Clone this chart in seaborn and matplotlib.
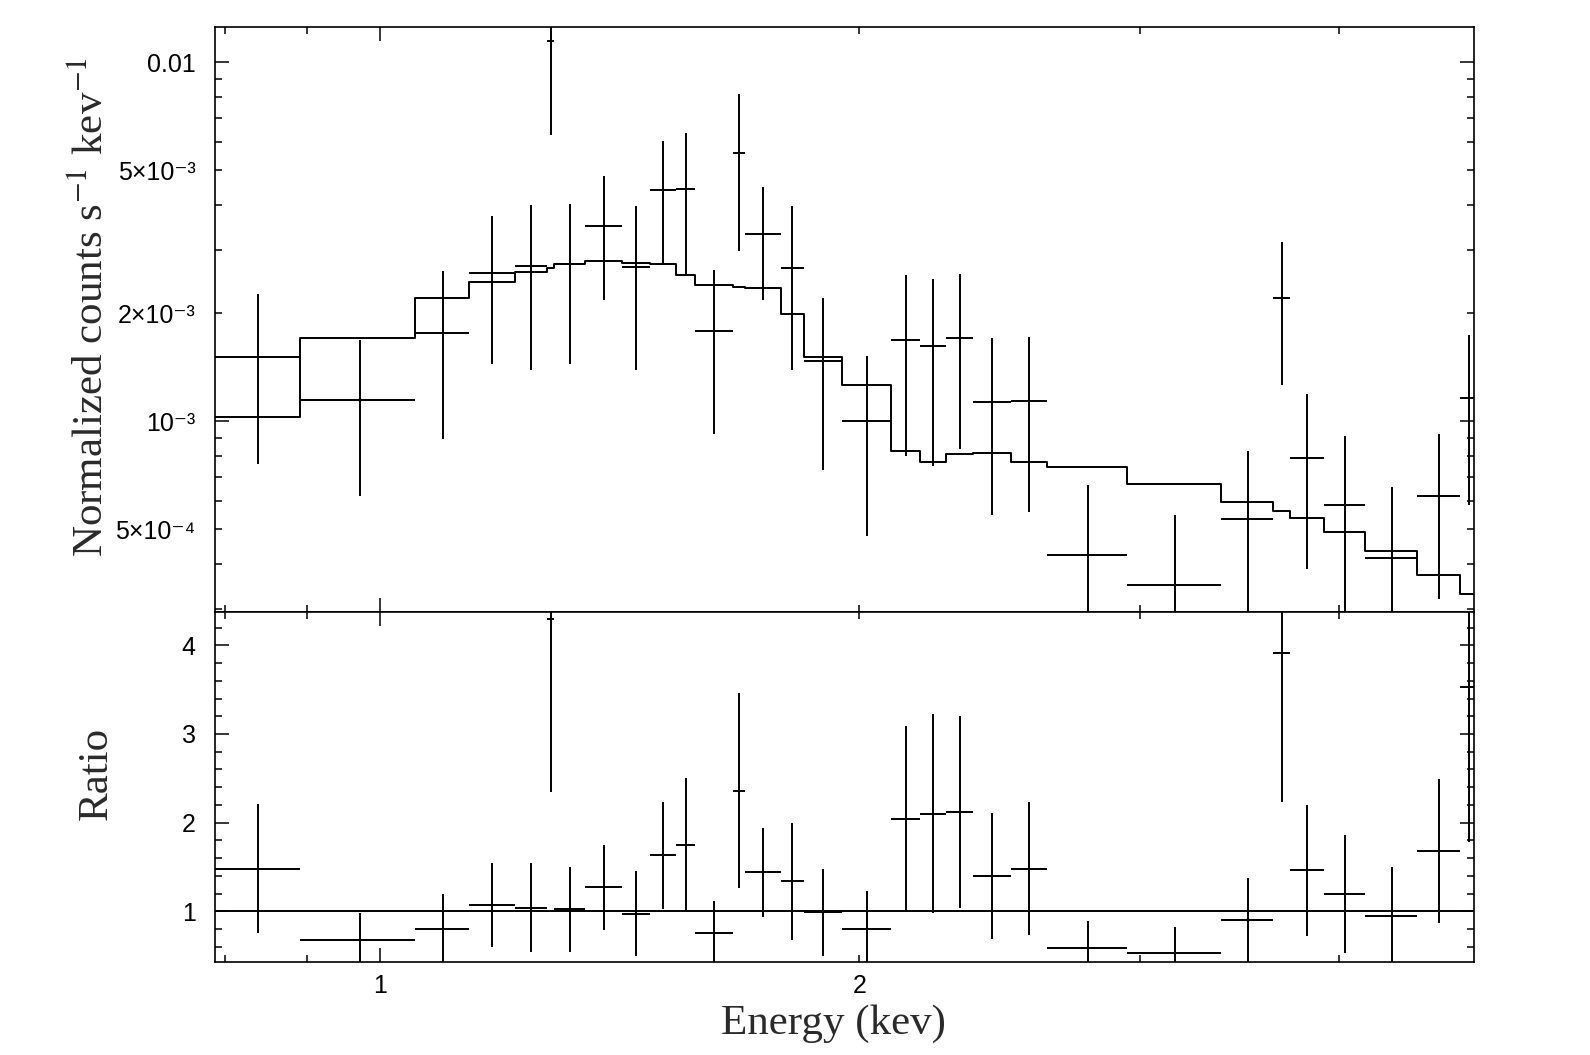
import matplotlib
matplotlib.use('Agg')
import numpy as np
import pandas as pd
import seaborn as sns
import matplotlib.pyplot as plt
from matplotlib.ticker import FixedLocator, FuncFormatter

# energy bin edges (kev)
edges = [0.787, 0.891, 1.052, 1.138, 1.215, 1.273, 1.287, 1.345, 1.420, 1.478,
         1.534, 1.578, 1.666, 1.696, 1.786, 1.845, 1.949, 2.094, 2.182, 2.268,
         2.358, 2.490, 2.624, 2.944, 3.372, 3.638, 3.727, 3.914, 4.153, 4.479,
         4.763, 4.887]
# normalized counts s^-1 kev^-1
counts = [1.51e-3, 1.15e-3, 1.76e-3, 2.59e-3, 2.70e-3, 1.146e-2, 2.74e-3, 3.50e-3,
          2.69e-3, 4.40e-3, 4.44e-3, 1.78e-3, 5.58e-3, 3.33e-3, 2.68e-3, 1.47e-3,
          1.00e-3, 1.68e-3, 1.62e-3, 1.71e-3, 1.13e-3, 1.14e-3, 4.23e-4, 3.49e-4,
          5.36e-4, 2.21e-3, 7.88e-4, 5.85e-4, 4.15e-4, 6.19e-4, 1.164e-3]
counts_err = [0.75e-3, 0.53e-3, 0.87e-3, 1.15e-3, 1.31e-3, 5.2e-3, 1.30e-3, 1.32e-3,
              1.30e-3, 1.64e-3, 1.90e-3, 0.86e-3, 2.60e-3, 1.15e-3, 1.29e-3, 0.74e-3,
              0.52e-3, 0.88e-3, 0.87e-3, 0.87e-3, 0.58e-3, 0.58e-3, 2.4e-4, 2.0e-4,
              2.9e-4, 0.95e-3, 4.0e-4, 3.25e-4, 2.4e-4, 3.0e-4, 0.58e-3]
model = [1.027e-3, 1.706e-3, 2.21e-3, 2.45e-3, 2.60e-3, 2.68e-3, 2.75e-3, 2.79e-3,
         2.76e-3, 2.735e-3, 2.55e-3, 2.39e-3, 2.37e-3, 2.35e-3, 1.99e-3, 1.51e-3,
         1.26e-3, 8.26e-4, 7.72e-4, 8.10e-4, 8.18e-4, 7.72e-4, 7.45e-4, 6.70e-4,
         5.96e-4, 5.64e-4, 5.38e-4, 4.93e-4, 4.355e-4, 3.74e-4, 3.30e-4]
# data / model
ratio = [1.48, 0.67, 0.80, 1.07, 1.04, 4.30, 1.02, 1.27, 0.97, 1.63, 1.75, 0.75,
         2.36, 1.44, 1.34, 0.99, 0.80, 2.04, 2.10, 2.12, 1.40, 1.48, 0.58, 0.53,
         0.90, 3.91, 1.46, 1.19, 0.95, 1.68, 3.53]
ratio_err = [0.73, 0.31, 0.395, 0.47, 0.50, 1.95, 0.48, 0.48, 0.48, 0.60, 0.75, 0.37,
             1.10, 0.50, 0.66, 0.49, 0.43, 1.05, 1.12, 1.08, 0.71, 0.75, 0.31, 0.29,
             0.48, 1.68, 0.74, 0.665, 0.55, 0.81, 1.75]

sns.set_theme(style='ticks')
plt.rcParams['font.family'] = ['Liberation Sans', 'DejaVu Sans']
plt.rcParams['mathtext.fontset'] = 'stix'

e_lo = np.array(edges[:-1])
e_hi = np.array(edges[1:])
e_mid = (e_lo + e_hi) / 2
xerr = [e_mid - e_lo, e_hi - e_mid]

step_df = pd.DataFrame({'energy': edges, 'model': model + [model[-1]]})

fig = plt.figure(figsize=(15.9, 10.55), dpi=100)
ax1 = fig.add_axes([0.1352, 0.4202, 0.7921, 0.5538])
ax2 = fig.add_axes([0.1352, 0.0884, 0.7921, 0.3318], sharex=ax1)

lw = 1.4
ink = 'black'

# top panel: spectrum + model
ax1.set_xscale('log')
ax1.set_yscale('log')
ax1.errorbar(e_mid, counts, xerr=xerr, yerr=counts_err, fmt='none',
             ecolor=ink, elinewidth=lw, capsize=0)
sns.lineplot(data=step_df, x='energy', y='model', ax=ax1, color=ink,
             linewidth=lw, drawstyle='steps-post', legend=False)
ax1.set_xlim(0.788, 4.865)
ax1.set_ylim(2.95e-4, 0.0125)

# bottom panel: ratio
ax2.errorbar(e_mid, ratio, xerr=xerr, yerr=ratio_err, fmt='none',
             ecolor=ink, elinewidth=lw, capsize=0)
ax2.axhline(1.0, color=ink, linewidth=lw)
ax2.set_ylim(0.43, 4.38)

# ticks
x_major = [1.0]
x_minor = [0.8, 0.9, 2.0, 3.0, 4.0]
for ax in (ax1, ax2):
    ax.xaxis.set_major_locator(FixedLocator(x_major))
    ax.xaxis.set_minor_locator(FixedLocator(x_minor))
    ax.tick_params(which='both', direction='in', top=True, right=True,
                   width=1.1, color=ink, labelsize=18, labelcolor=ink)
    ax.tick_params(which='major', length=10)
    ax.tick_params(which='minor', length=5)
    ax.tick_params(axis='y', which='both', pad=14)
    ax.tick_params(axis='x', which='both', pad=9)
    ax.set_xlabel('')
    ax.set_ylabel('')
    for s in ax.spines.values():
        s.set_color(ink)
        s.set_linewidth(1.2)
    ax.set_facecolor('white')

ax1.tick_params(axis='x', which='both', labelbottom=False)

y_minor = [m * 10.0 ** p for p in (-4, -3, -2) for m in range(2, 10)]
ax1.yaxis.set_major_locator(FixedLocator([1e-3, 1e-2]))
ax1.yaxis.set_minor_locator(FixedLocator(y_minor))
top_labels = {1e-2: '0.01', 5e-3: '5×10⁻³', 2e-3: '2×10⁻³', 1e-3: '10⁻³', 5e-4: '5×10⁻⁴'}


def top_fmt(v, pos):
    for k, t in top_labels.items():
        if abs(v - k) / k < 1e-6:
            return t
    return ''


ax1.yaxis.set_major_formatter(FuncFormatter(top_fmt))
ax1.yaxis.set_minor_formatter(FuncFormatter(top_fmt))

ax2.yaxis.set_major_locator(FixedLocator([1, 2, 3, 4]))
ax2.yaxis.set_minor_locator(FixedLocator(np.arange(0.4, 4.41, 0.2)))
ax2.yaxis.set_major_formatter(FuncFormatter(lambda v, p: f'{v:g}'))


def x_fmt(v, pos):
    return {1.0: '1', 2.0: '2'}.get(round(v, 3), '')


ax2.xaxis.set_major_formatter(FuncFormatter(x_fmt))
ax2.xaxis.set_minor_formatter(FuncFormatter(x_fmt))

# axis titles
serif = ['Liberation Serif', 'DejaVu Serif']
label_color = '#2a2a2a'
fig.text(0.0575, 0.709, 'Normalized counts s$^{-1}$ kev$^{-1}$', rotation=90,
         ha='center', va='center', fontsize=31, family=serif, color=label_color)
fig.text(0.0605, 0.2673, 'Ratio', rotation=90, ha='center', va='center',
         fontsize=31, family=serif, color=label_color)
fig.text(0.5242, 0.0299, 'Energy (kev)', ha='center', va='center',
         fontsize=31, family=serif, color=label_color)

fig.savefig('out.png', dpi=100, facecolor='white')
